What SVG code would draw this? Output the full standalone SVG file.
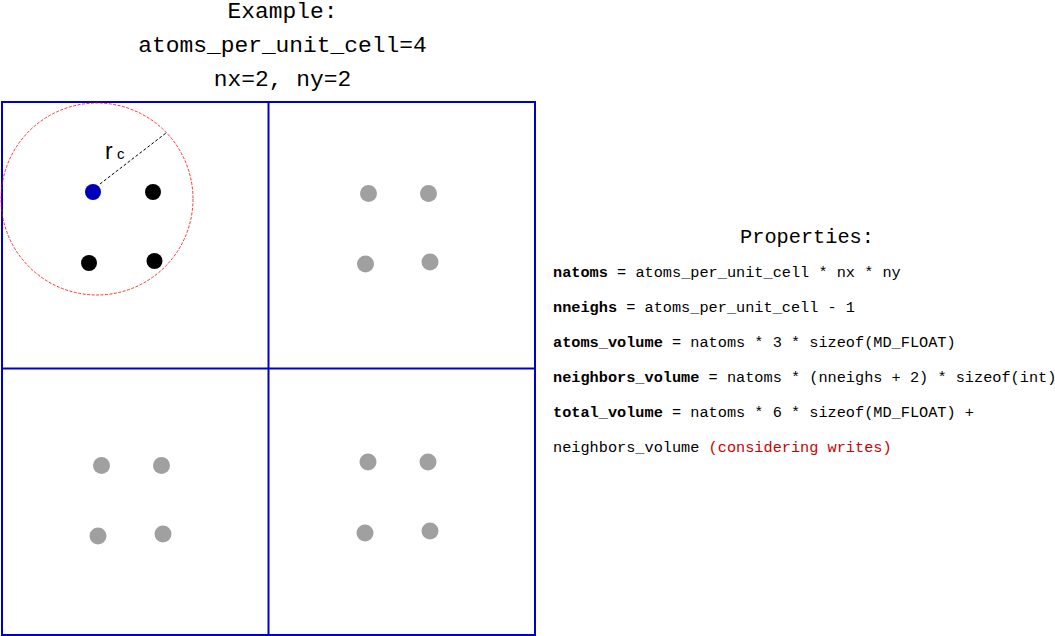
<svg xmlns="http://www.w3.org/2000/svg" width="1055" height="636" viewBox="0 0 1055 636">
<style>
.mono{font-family:"Liberation Mono","DejaVu Sans Mono",monospace;fill:#000}
.title{font-size:22.9px;text-anchor:middle}
.prop{font-size:15.25px}
.b{font-weight:bold}
.red{fill:#cc0000}
.cell{fill:none;stroke:#0000cc;stroke-width:2}
.gray{fill:#a0a0a0}
.blk{fill:#000}
</style>
<rect width="1055" height="636" fill="#fff"/>
<g id="title" class="mono title">
<text x="282.5" y="18">Example:</text>
<text x="282.5" y="52">atoms_per_unit_cell=4</text>
<text x="282.5" y="86">nx=2, ny=2</text>
</g>
<g id="grid">
<rect class="cell" x="2" y="102" width="533" height="533"/>
<line class="cell" x1="268.5" y1="102" x2="268.5" y2="635"/>
<line class="cell" x1="2" y1="368.5" x2="535" y2="368.5"/>
</g>
<g id="cutoff">
<circle cx="97" cy="199" r="96" fill="none" stroke="#ff0000" stroke-width="0.8" stroke-dasharray="3,1.5"/>
<line x1="100" y1="184" x2="166" y2="133" stroke="#000" stroke-width="1" stroke-dasharray="3,2"/>
<text x="105" y="159" font-family="Liberation Sans,Arial,sans-serif" font-size="23">r</text>
<text x="117" y="159" font-family="Liberation Sans,Arial,sans-serif" font-size="15">c</text>
</g>
<g id="cell-0">
<circle cx="93" cy="192" r="8" fill="#0000bb"/>
<circle class="blk" cx="153" cy="192" r="8"/>
<circle class="blk" cx="89" cy="263" r="8"/>
<circle class="blk" cx="154.5" cy="261" r="8"/>
</g>
<g id="cell-1">
<circle class="gray" cx="368.5" cy="193.5" r="8.5"/>
<circle class="gray" cx="428.5" cy="193.5" r="8.5"/>
<circle class="gray" cx="365.5" cy="264" r="8.5"/>
<circle class="gray" cx="430" cy="262" r="8.5"/>
</g>
<g id="cell-2">
<circle class="gray" cx="101.5" cy="465.5" r="8.5"/>
<circle class="gray" cx="161.5" cy="465.5" r="8.5"/>
<circle class="gray" cx="98" cy="536" r="8.5"/>
<circle class="gray" cx="163" cy="534" r="8.5"/>
</g>
<g id="cell-3">
<circle class="gray" cx="368" cy="462" r="8.5"/>
<circle class="gray" cx="428" cy="462" r="8.5"/>
<circle class="gray" cx="365" cy="533" r="8.5"/>
<circle class="gray" cx="430" cy="531" r="8.5"/>
</g>
<g id="properties" class="mono prop">
<text x="807" y="243" text-anchor="middle" font-size="20.3">Properties:</text>
<text x="553" y="277"><tspan class="b">natoms</tspan> = atoms_per_unit_cell * nx * ny</text>
<text x="553" y="312"><tspan class="b">nneighs</tspan> = atoms_per_unit_cell - 1</text>
<text x="553" y="347"><tspan class="b">atoms_volume</tspan> = natoms * 3 * sizeof(MD_FLOAT)</text>
<text x="553" y="382"><tspan class="b">neighbors_volume</tspan> = natoms * (nneighs + 2) * sizeof(int)</text>
<text x="553" y="417"><tspan class="b">total_volume</tspan> = natoms * 6 * sizeof(MD_FLOAT) +</text>
<text x="553" y="452">neighbors_volume <tspan class="red">(considering writes)</tspan></text>
</g>
</svg>
